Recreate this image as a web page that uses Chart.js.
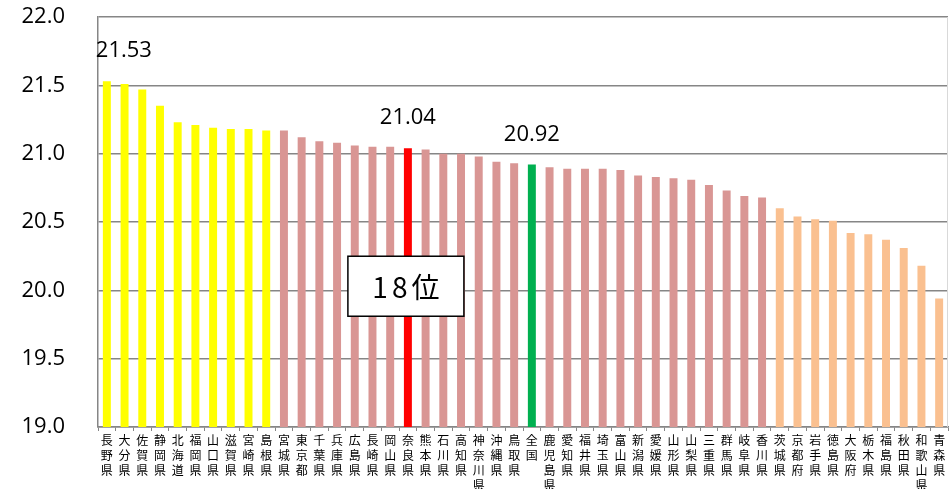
<!DOCTYPE html>
<html>
<head>
<meta charset="utf-8">
<script src="https://cdn.jsdelivr.net/npm/chart.js@4/dist/chart.umd.min.js"></script>
<style>
  html, body { margin: 0; padding: 0; background: #fff; }
  #wrap { width: 949px; height: 489px; }
</style>
</head>
<body>
<div id="wrap"><canvas id="barChart"></canvas></div>
<script>
// 都道府県（降順）
const prefectures = [
    '長野県', '大分県', '佐賀県', '静岡県', '北海道', '福岡県', '山口県', '滋賀県', '宮崎県', '島根県',
    '宮城県', '東京都', '千葉県', '兵庫県', '広島県', '長崎県', '岡山県', '奈良県', '熊本県', '石川県',
    '高知県', '神奈川県', '沖縄県', '鳥取県', '全国', '鹿児島県', '愛知県', '福井県', '埼玉県', '富山県',
    '新潟県', '愛媛県', '山形県', '山梨県', '三重県', '群馬県', '岐阜県', '香川県', '茨城県', '京都府',
    '岩手県', '徳島県', '大阪府', '栃木県', '福島県', '秋田県', '和歌山県', '青森県'
];
const values = [
    21.53, 21.51, 21.47, 21.35, 21.23, 21.21, 21.19, 21.18, 21.18, 21.17,
    21.17, 21.12, 21.09, 21.08, 21.06, 21.05, 21.05, 21.04, 21.03, 21.00,
    21.00, 20.98, 20.94, 20.93, 20.92, 20.90, 20.89, 20.89, 20.89, 20.88,
    20.84, 20.83, 20.82, 20.81, 20.77, 20.73, 20.69, 20.68, 20.60, 20.54,
    20.52, 20.51, 20.42, 20.41, 20.37, 20.31, 20.18, 19.94
];
const yTicks = [19.0, 19.5, 20.0, 20.5, 21.0, 21.5, 22.0];
const labelled = ['長野県', '奈良県', '全国'];
const target = '奈良県';
const rankText = '18位';

const topCount = 10;
const bottomCount = 10;

function barColor(name, i) {
    if (name === target) return '#FF0000';
    if (name === '全国') return '#00B050';
    if (i < topCount) return '#FFFF00';
    if (i >= prefectures.length - bottomCount) return '#FAC090';
    return '#D99694';
}

// 値ラベルと順位の枠
const annotations = {
    id: 'annotations',
    afterDatasetsDraw(chart) {
        const ctx = chart.ctx;
        const meta = chart.getDatasetMeta(0);
        ctx.save();
        ctx.fillStyle = '#000';
        ctx.font = '22px "Open Sans"';
        ctx.textAlign = 'center';
        ctx.textBaseline = 'middle';
        labelled.forEach((name) => {
            const i = prefectures.indexOf(name);
            const bar = meta.data[i];
            const dx = i === 0 ? 17 : 0;
            ctx.fillText(values[i].toFixed(2), bar.x + dx, bar.y - 30);
        });

        const bar = meta.data[prefectures.indexOf(target)];
        const cy = chart.scales.y.getPixelForValue(20.03);
        const w = 116, h = 60;
        ctx.fillStyle = '#fff';
        ctx.fillRect(bar.x - 60, cy - h / 2, w, h);
        ctx.strokeStyle = '#000';
        ctx.lineWidth = 1.5;
        ctx.strokeRect(bar.x - 60, cy - h / 2, w, h);
        ctx.fillStyle = '#000';
        ctx.font = '28px "Noto Sans CJK JP"';
        ctx.letterSpacing = '4px';
        ctx.fillText(rankText, bar.x, cy + 1);

        const area = chart.chartArea;
        ctx.strokeStyle = '#d9d9d9';
        ctx.lineWidth = 1;
        ctx.beginPath();
        ctx.moveTo(area.right - 0.5, area.top);
        ctx.lineTo(area.right - 0.5, area.bottom);
        ctx.stroke();
        ctx.restore();
    }
};

new Chart(document.getElementById('barChart'), {
    type: 'bar',
    data: {
        labels: prefectures.map((p) => p.split('')),
        datasets: [{
            data: values,
            backgroundColor: prefectures.map(barColor),
            barPercentage: 0.9,
            categoryPercentage: 0.5,
        }],
    },
    options: {
        responsive: true,
        maintainAspectRatio: false,
        animation: false,
        layout: { padding: { top: 17, right: 1, left: 0, bottom: 0 } },
        plugins: { legend: { display: false }, tooltip: { enabled: false } },
        scales: {
            x: {
                grid: { drawOnChartArea: false, drawTicks: true, tickLength: 4, color: '#868686' },
                border: { color: '#868686', width: 1.5 },
                ticks: {
                    color: '#000',
                    font: { family: '"Noto Sans CJK JP"', size: 12, lineHeight: 1.25 },
                    maxRotation: 0,
                    autoSkip: false,
                    padding: 2,
                },
                afterFit: (scale) => {
                    scale.height = 62;
                    scale.paddingLeft = 0;
                    scale.paddingRight = 0;
                },
            },
            y: {
                min: 19,
                max: 22,
                afterBuildTicks: (scale) => { scale.ticks = yTicks.map((v) => ({ value: v })); },
                grid: { color: '#868686', lineWidth: 1.5, drawTicks: false },
                border: { color: '#868686', width: 1.5 },
                ticks: {
                    color: '#000',
                    font: { family: '"Open Sans"', size: 22 },
                    padding: 33,
                    callback: (v) => v.toFixed(1),
                },
                afterFit: (scale) => {
                    scale.width = 98;
                    scale.paddingTop = 0;
                    scale.paddingBottom = 0;
                },
            },
        },
    },
    plugins: [annotations],
});
</script>
</body>
</html>
